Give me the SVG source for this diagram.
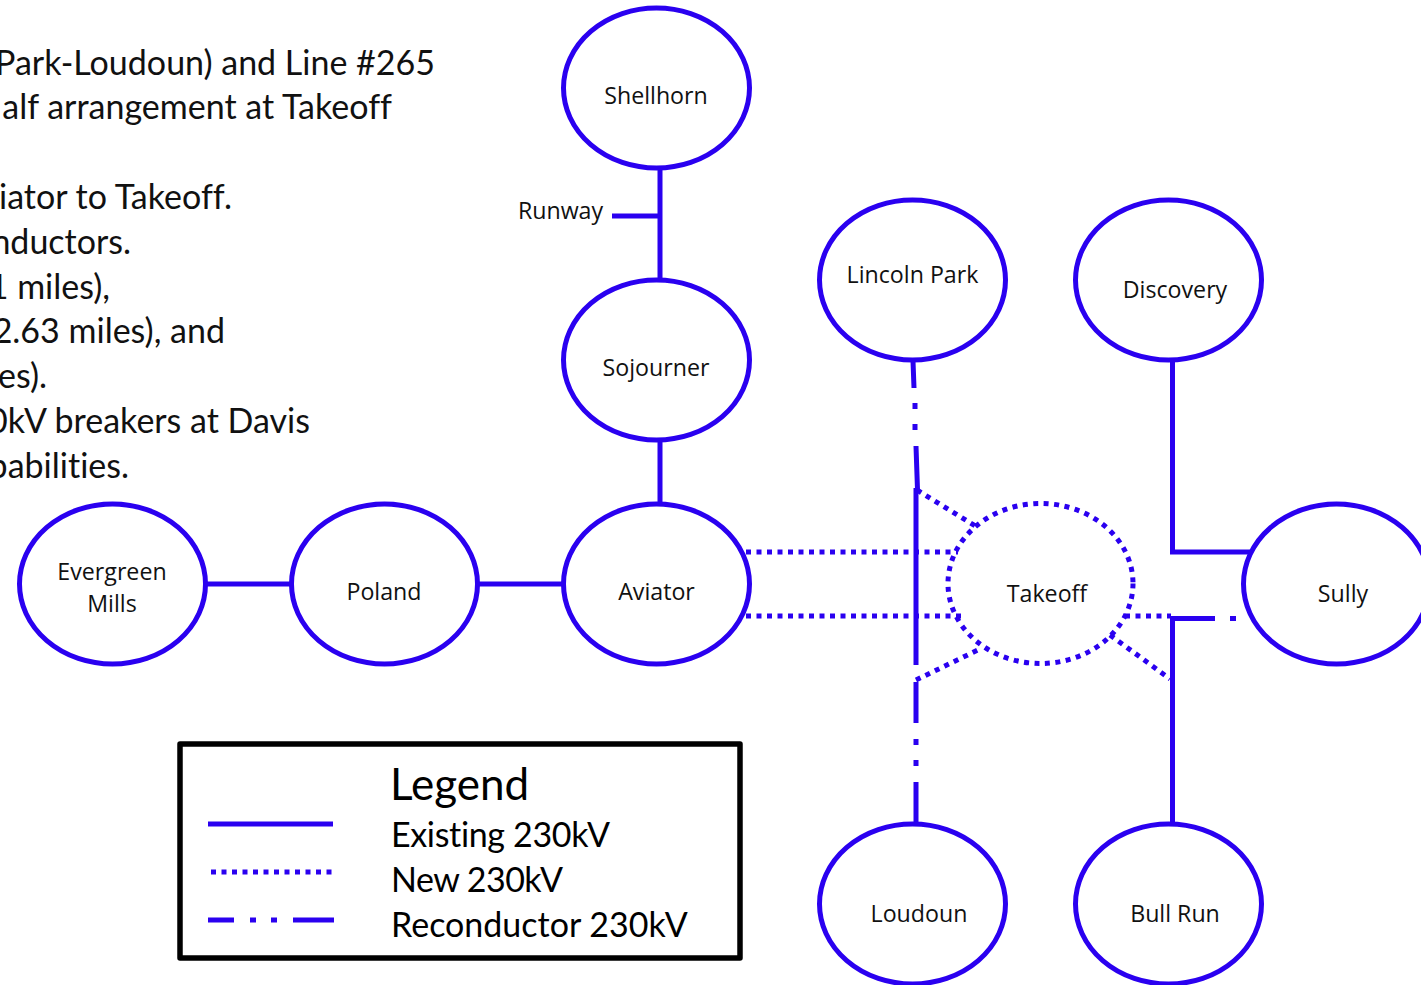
<svg xmlns="http://www.w3.org/2000/svg" width="1421" height="985" viewBox="0 0 1421 985">
<style>
.n{fill:#fff;stroke:#2a00f0;stroke-width:5}
.dot{stroke-dasharray:5 5.500}
.l{fill:none;stroke:#2a00f0;stroke-width:5}
.t{font-family:"Open Sans","Noto Sans",sans-serif;font-size:23.200px;fill:#111;text-anchor:middle}
.b{font-family:Lato,"Noto Sans",sans-serif;font-size:34px;fill:#111;text-anchor:end;font-variant-ligatures:none}
.g{font-family:Lato,"Noto Sans",sans-serif;font-size:34px;fill:#000;font-variant-ligatures:none}
</style>
<rect width="1421" height="985" fill="#fff"/>
<g id="notes">
<text class="b" x="435" y="74.500">Park-Loudoun) and Line #265</text>
<text class="b" x="392" y="118.500">alf arrangement at Takeoff</text>
<text class="b" x="232" y="208.500">iator to Takeoff.</text>
<text class="b" x="131" y="253.500">nductors.</text>
<text class="b" x="110" y="298.500">1 miles),</text>
<text class="b" x="225" y="342.500">2.63 miles), and</text>
<text class="b" x="47" y="387.500">es).</text>
<text class="b" x="310" y="432.500">0kV breakers at Davis</text>
<text class="b" x="129" y="477.500">pabilities.</text>
</g>
<g id="connectors">
<path class="l" d="M660 168V280M612 216H660M660 440V504M206 584H292M478 584H564M916 488V665M1172.500 361V552H1250M1172.500 825V618.500H1215"/>
<path class="l" d="M913 361L914 388M915 403V409M915 424V430M916 446L917.500 490M916 682V723M916 739V745M916 760V766M916 782V825M1230 618.500H1236"/>
<path class="l dot" d="M746 552H958M746 616H963M917 490L977 527M916 680L982 648M1110 635L1170 679M1125 616H1171"/>
</g>
<g id="Shellhorn"><ellipse class="n" cx="656.500" cy="88" rx="93" ry="80"/><text class="t" x="656" y="104">Shellhorn</text></g>
<g id="Sojourner"><ellipse class="n" cx="656.500" cy="360" rx="93" ry="80"/><text class="t" x="656" y="376">Sojourner</text></g>
<g id="LincolnPark"><ellipse class="n" cx="912.500" cy="280" rx="93" ry="80"/><text class="t" x="912.500" y="283">Lincoln Park</text></g>
<g id="Discovery"><ellipse class="n" cx="1168.500" cy="280" rx="93" ry="80"/><text class="t" x="1175" y="298">Discovery</text></g>
<g id="Evergreen"><ellipse class="n" cx="112.500" cy="584" rx="93" ry="80"/><text class="t" x="112" y="580">Evergreen</text><text class="t" x="112" y="612">Mills</text></g>
<g id="Poland"><ellipse class="n" cx="384.500" cy="584" rx="93" ry="80"/><text class="t" x="384" y="600">Poland</text></g>
<g id="Aviator"><ellipse class="n" cx="656.500" cy="584" rx="93" ry="80"/><text class="t" x="656.500" y="600">Aviator</text></g>
<g id="Takeoff"><ellipse class="l dot" cx="1040.500" cy="583.500" rx="92.500" ry="80"/><text class="t" x="1047" y="602">Takeoff</text></g>
<g id="Sully"><ellipse class="n" cx="1336.500" cy="584" rx="93" ry="80"/><text class="t" x="1343" y="602">Sully</text></g>
<g id="Loudoun"><ellipse class="n" cx="912.500" cy="904" rx="93" ry="80"/><text class="t" x="919" y="922">Loudoun</text></g>
<g id="BullRun"><ellipse class="n" cx="1168.500" cy="904" rx="93" ry="80"/><text class="t" x="1175" y="922">Bull Run</text></g>
<text class="t" x="560.500" y="219">Runway</text>
<g id="legend">
<rect x="180" y="744" width="560" height="214" fill="none" stroke="#000" stroke-width="5.500" stroke-linejoin="round"/>
<path class="l" d="M208 824H333M208 920H234M250 920H256M271 920H277M293 920H334"/>
<path class="l dot" d="M211 872H333"/>
<text class="g" x="390" y="800" style="font-size:44px">Legend</text>
<text class="g" x="391" y="846.500" textLength="219">Existing 230kV</text>
<text class="g" x="391" y="891.500" textLength="172">New 230kV</text>
<text class="g" x="391" y="936.500">Reconductor 230kV</text>
</g>
</svg>
